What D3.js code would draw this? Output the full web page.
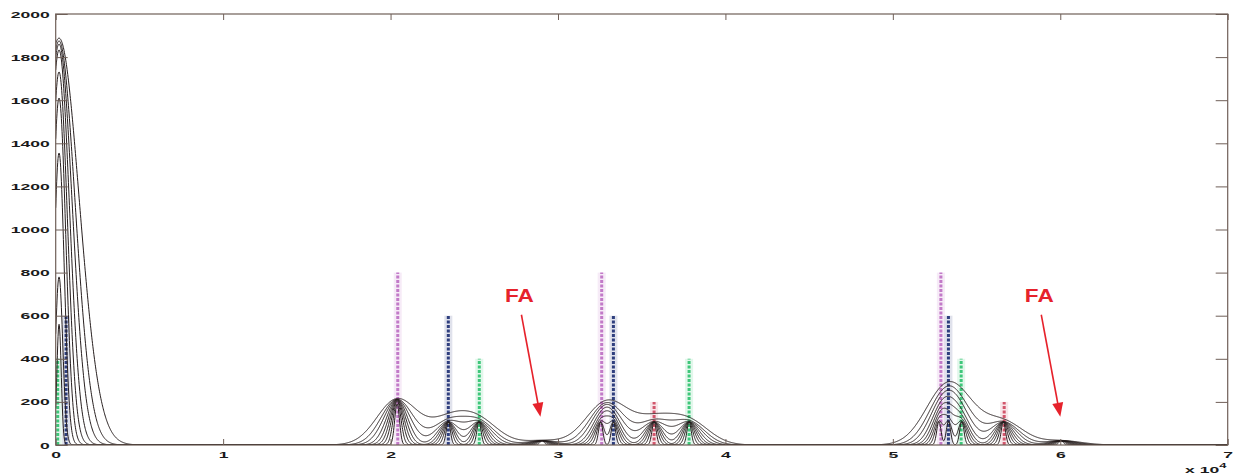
<!DOCTYPE html>
<html>
<head>
<meta charset="utf-8">
<script src="https://cdn.jsdelivr.net/npm/d3@7"></script>
<style>
  body { margin: 0; background: #fff; }
  svg { display: block; }
</style>
</head>
<body>
<svg id="chart" width="1233" height="475"></svg>
<script>
// Range axis is in units of 10^4
const xTickValues = [0, 1, 2, 3, 4, 5, 6, 7];
const yTickValues = [0, 200, 400, 600, 800, 1000, 1200, 1400, 1600, 1800, 2000];

// Kernel width of each intensity curve (narrowest to widest)
const kernelWidths = [0.013, 0.022, 0.031, 0.040, 0.050, 0.062, 0.078, 0.095, 0.120];
// Peak of the birth mass at the origin for each curve
const originX = 0.02;
const originPeak = [560, 780, 1355, 1610, 1731, 1833, 1860, 1875, 1888];

// Detections and their weights (two weak ones are false alarms)
const detectionX = [2.033, 2.045, 2.345, 2.528, 2.905,
                    3.255, 3.331, 3.574, 3.783,
                    5.275, 5.332, 5.412, 5.660, 6.005];
const detectionWeight = [106, 106, 106, 106, 20,
                         106, 106, 106, 106,
                         108, 108, 108, 106, 20];

// True targets: position and strength
const targetX = [0.012, 0.062,
                 2.043, 2.345, 2.530,
                 3.261, 3.331, 3.574, 3.783,
                 5.287, 5.332, 5.408, 5.665];
const targetStrength = [400, 600,
                        800, 600, 400,
                        800, 600, 200, 400,
                        800, 600, 400, 200];

// False-alarm annotations
const alarmX = [2.895, 6.0];
const alarmLabel = ["FA", "FA"];

const svg = d3.select("#chart");
const plot = { left: 55.7, right: 1227.7, top: 14, bottom: 445 };

const x = d3.scaleLinear().domain([0, 7]).range([plot.left, plot.right]);
const y = d3.scaleLinear().domain([0, 2000]).range([plot.bottom, plot.top]);

const strengthColor = d3.scaleOrdinal()
  .domain([800, 600, 400, 200])
  .range(["#c27ac8", "#2f3f7e", "#3ec77a", "#d2566c"]);

svg.append("defs").append("clipPath").attr("id", "plotClip")
  .append("rect")
  .attr("x", plot.left).attr("y", plot.top)
  .attr("width", plot.right - plot.left).attr("height", plot.bottom - plot.top);

const layer = svg.append("g").attr("clip-path", "url(#plotClip)");

// True target markers: faint band with a dashed stem
const targets = layer.append("g").selectAll("g")
  .data(targetX.map((v, i) => ({ x: v, h: targetStrength[i] })))
  .join("g");

targets.append("rect")
  .attr("x", d => x(d.x) - 4)
  .attr("y", d => y(d.h))
  .attr("width", 8)
  .attr("height", d => y(0) - y(d.h))
  .attr("fill", d => strengthColor(d.h))
  .attr("opacity", 0.15);

targets.append("line")
  .attr("x1", d => x(d.x)).attr("x2", d => x(d.x))
  .attr("y1", y(0)).attr("y2", d => y(d.h))
  .attr("stroke", d => strengthColor(d.h))
  .attr("stroke-width", 3)
  .attr("stroke-dasharray", "3,1.5");

// Intensity curves
const sampleX = d3.range(0, 7.0001, 0.002);
const curves = kernelWidths.map((s, k) => sampleX.map(xv => {
  const two = 2 * s * s;
  let v = originPeak[k] * Math.exp(-((xv - originX) ** 2) / two);
  for (let i = 0; i < detectionX.length; i++) {
    const d = xv - detectionX[i];
    v += detectionWeight[i] * Math.exp(-d * d / two);
  }
  return [xv, v];
}));

const line = d3.line().x(d => x(d[0])).y(d => y(d[1]));

layer.append("g").selectAll("path")
  .data(curves)
  .join("path")
  .attr("d", line)
  .attr("fill", "none")
  .attr("stroke", "#261e1e")
  .attr("stroke-width", 1);

// Axes
const axisColor = "#6f5f58";
const labelFont = "'Liberation Sans', Arial, sans-serif";
const stretch = 1.85;

function styleAxis(g) {
  g.select(".domain").remove();
  g.selectAll(".tick line").attr("stroke", axisColor).attr("stroke-width", 1);
  g.selectAll("text")
    .attr("font-family", labelFont)
    .attr("font-size", 9.5)
    .attr("font-weight", "bold")
    .attr("fill", "#1a1a1a");
}

const bottomAxis = svg.append("g")
  .attr("transform", `translate(0,${plot.bottom})`)
  .call(d3.axisBottom(x).tickValues(xTickValues).tickSize(-6).tickPadding(6).tickFormat(d3.format("d")))
  .call(styleAxis);
bottomAxis.selectAll("text").attr("transform", `scale(${stretch},1)`);

svg.append("g")
  .attr("transform", `translate(0,${plot.top})`)
  .call(d3.axisTop(x).tickValues(xTickValues).tickSize(-6).tickFormat(""))
  .call(styleAxis);

const leftAxis = svg.append("g")
  .attr("transform", `translate(${plot.left},0)`)
  .call(d3.axisLeft(y).tickValues(yTickValues).tickSize(-12).tickPadding(6).tickFormat(d3.format("d")))
  .call(styleAxis);
leftAxis.selectAll("text")
  .attr("x", -6 / stretch)
  .attr("transform", `scale(${stretch},1)`);

svg.append("g")
  .attr("transform", `translate(${plot.right},0)`)
  .call(d3.axisRight(y).tickValues(yTickValues).tickSize(-12).tickFormat(""))
  .call(styleAxis);

svg.append("rect")
  .attr("x", plot.left).attr("y", plot.top)
  .attr("width", plot.right - plot.left).attr("height", plot.bottom - plot.top)
  .attr("fill", "none")
  .attr("stroke", axisColor)
  .attr("stroke-width", 1.2);

// Exponent note for the range axis
const expo = svg.append("text")
  .attr("transform", `translate(1185,473) scale(${stretch},1)`)
  .attr("font-family", labelFont)
  .attr("font-size", 9.5)
  .attr("font-weight", "bold")
  .attr("fill", "#1a1a1a");
expo.append("tspan").text("x 10");
expo.append("tspan").attr("dy", -5).attr("font-size", 7).text("4");

// False-alarm annotations
const red = "#e6222b";
const alarms = svg.append("g").selectAll("g")
  .data(alarmX.map((v, i) => ({ x: v, label: alarmLabel[i] })))
  .join("g")
  .attr("transform", d => `translate(${x(d.x)},${y(131)})`);

const dx = -19, dy = -102;
const len = Math.hypot(dx, dy);
const ux = dx / len, uy = dy / len;
const headLen = 14, headHalf = 5.5;

alarms.append("line")
  .attr("x1", dx).attr("y1", dy)
  .attr("x2", ux * headLen * 0.8).attr("y2", uy * headLen * 0.8)
  .attr("stroke", red)
  .attr("stroke-width", 1.6);

alarms.append("path")
  .attr("d", () => {
    const bx = ux * headLen, by = uy * headLen;
    const px = -uy * headHalf, py = ux * headHalf;
    return `M0,0 L${bx + px},${by + py} L${bx - px},${by - py} Z`;
  })
  .attr("fill", red);

alarms.append("text")
  .attr("transform", `translate(${dx - 2},${dy - 13}) scale(1.22,1)`)
  .attr("text-anchor", "middle")
  .attr("font-family", labelFont)
  .attr("font-weight", "bold")
  .attr("font-size", 18.5)
  .attr("fill", red)
  .text(d => d.label);
</script>
</body>
</html>
